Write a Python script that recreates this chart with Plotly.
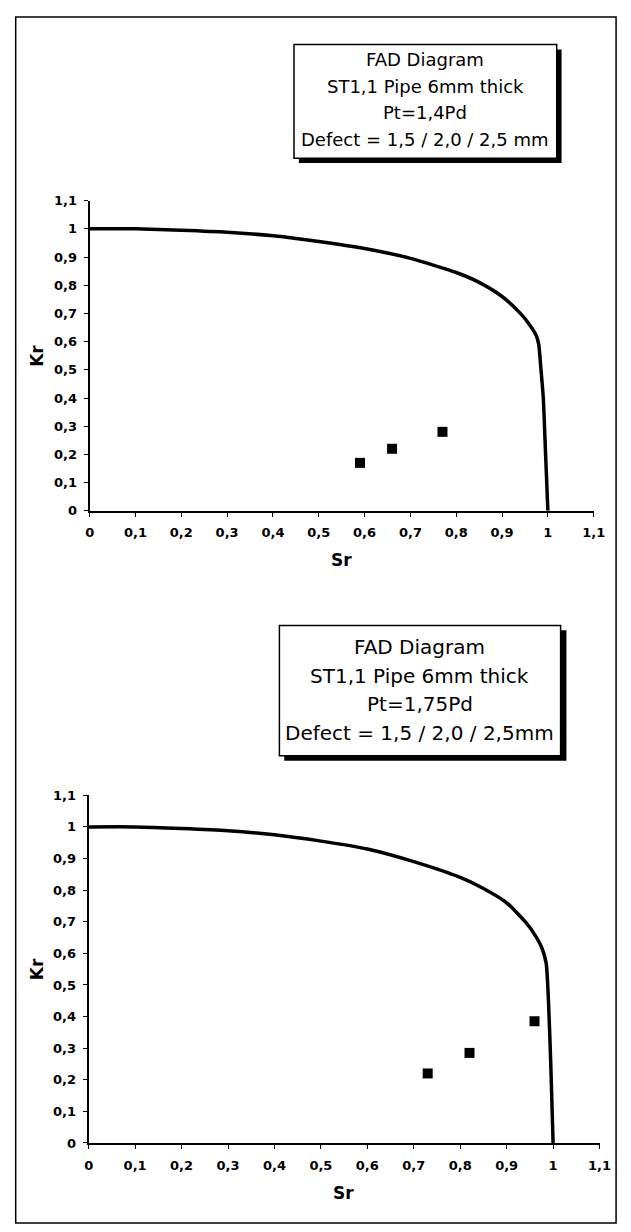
import plotly.graph_objects as go

W, H = 631, 1232

# ---- data ----
tick_vals = [0, 0.1, 0.2, 0.3, 0.4, 0.5, 0.6, 0.7, 0.8, 0.9, 1.0, 1.1]
tick_text = ["0", "0,1", "0,2", "0,3", "0,4", "0,5", "0,6", "0,7", "0,8", "0,9", "1", "1,1"]

fad1_sr = [0, 0.1, 0.2, 0.3, 0.4, 0.5, 0.6, 0.7, 0.8, 0.85, 0.9, 0.94, 0.96, 0.975, 0.98, 0.985, 0.99, 0.995, 1.0]
fad1_kr = [1.0, 1.0, 0.995, 0.988, 0.975, 0.955, 0.93, 0.895, 0.845, 0.81, 0.76, 0.70, 0.66, 0.62, 0.59, 0.5, 0.4, 0.2, 0.0]
pts1_sr = [0.59, 0.66, 0.77]
pts1_kr = [0.17, 0.22, 0.28]

fad2_sr = [0, 0.1, 0.2, 0.3, 0.4, 0.5, 0.6, 0.7, 0.8, 0.85, 0.9, 0.94, 0.96, 0.975, 0.985, 0.99, 0.995, 1.0]
fad2_kr = [1.0, 1.0, 0.995, 0.988, 0.975, 0.955, 0.93, 0.89, 0.84, 0.805, 0.76, 0.70, 0.66, 0.62, 0.57, 0.45, 0.25, 0.0]
pts2_sr = [0.73, 0.82, 0.96]
pts2_kr = [0.22, 0.285, 0.385]

box1_lines = ["FAD Diagram", "ST1,1 Pipe 6mm thick", "Pt=1,4Pd", "Defect = 1,5 / 2,0 / 2,5 mm"]
box2_lines = ["FAD Diagram", "ST1,1 Pipe 6mm thick", "Pt=1,75Pd", "Defect = 1,5 / 2,0 / 2,5mm"]


def px(x):
    return x / W


def py(y):
    return 1 - y / H


fig = go.Figure()

fig.add_trace(go.Scatter(x=fad1_sr, y=fad1_kr, mode="lines", line=dict(color="black", width=3.5, shape="spline", smoothing=0.6),
                         xaxis="x", yaxis="y", showlegend=False))
fig.add_trace(go.Scatter(x=pts1_sr, y=pts1_kr, mode="markers", marker=dict(symbol="square", size=10, color="black"),
                         xaxis="x", yaxis="y", showlegend=False))
fig.add_trace(go.Scatter(x=fad2_sr, y=fad2_kr, mode="lines", line=dict(color="black", width=3.5, shape="spline", smoothing=0.6),
                         xaxis="x2", yaxis="y2", showlegend=False))
fig.add_trace(go.Scatter(x=pts2_sr, y=pts2_kr, mode="markers", marker=dict(symbol="square", size=10, color="black"),
                         xaxis="x2", yaxis="y2", showlegend=False))

tickfont = dict(family="DejaVu Sans", size=13, color="black")
bold_ticks = ["<b>%s</b>" % t for t in tick_text]
axis_common = dict(range=[0, 1.1], tickvals=tick_vals, ticktext=bold_ticks, showline=True, linecolor="black",
                   linewidth=2, ticks="outside", ticklen=4, tickwidth=1, tickcolor="black", showgrid=False,
                   zeroline=False, tickfont=tickfont)

fig.update_layout(
    width=W, height=H,
    margin=dict(l=0, r=0, t=0, b=0),
    paper_bgcolor="white", plot_bgcolor="white",
    xaxis=dict(domain=[px(87), px(605)], anchor="y", ticklabelstandoff=5, **axis_common),
    yaxis=dict(domain=[py(510), py(196)], anchor="x", ticklabelstandoff=4, **axis_common),
    xaxis2=dict(domain=[px(86), px(611)], anchor="y2", ticklabelstandoff=5, **axis_common),
    yaxis2=dict(domain=[py(1150), py(798)], anchor="x2", ticklabelstandoff=4, **axis_common),
)

shapes = [
    dict(type="rect", xref="paper", yref="paper", x0=px(11), x1=px(628), y0=py(10), y1=py(1231),
         line=dict(color="black", width=1.5), fillcolor="rgba(0,0,0,0)"),
    # box 1 shadow + box
    dict(type="rect", xref="paper", yref="paper", x0=px(302), x1=px(572), y0=py(43), y1=py(158),
         line=dict(width=0), fillcolor="black"),
    dict(type="rect", xref="paper", yref="paper", x0=px(297), x1=px(567), y0=py(38), y1=py(153),
         line=dict(color="black", width=1.5), fillcolor="white"),
    # box 2 shadow + box
    dict(type="rect", xref="paper", yref="paper", x0=px(287), x1=px(577), y0=py(631), y1=py(763),
         line=dict(width=0), fillcolor="black"),
    dict(type="rect", xref="paper", yref="paper", x0=px(282), x1=px(571), y0=py(626), y1=py(758),
         line=dict(color="black", width=1.5), fillcolor="white"),
]
fig.update_layout(shapes=shapes)

ann = []
box_font1 = dict(family="DejaVu Sans", size=18, color="black")
for line, yy in zip(box1_lines, [53, 80, 107, 134]):
    ann.append(dict(x=px(432), y=py(yy), xref="paper", yref="paper", text=line, showarrow=False,
                    xanchor="center", yanchor="middle", font=box_font1))
box_font2 = dict(family="DejaVu Sans", size=20, color="black")
for line, yy in zip(box2_lines, [648, 677, 706, 735]):
    ann.append(dict(x=px(426), y=py(yy), xref="paper", yref="paper", text=line, showarrow=False,
                    xanchor="center", yanchor="middle", font=box_font2))

title_font = dict(family="DejaVu Sans", size=17, color="black")
ann.append(dict(x=px(33), y=py(353), xref="paper", yref="paper", text="<b>Kr</b>", textangle=-90,
                showarrow=False, xanchor="center", yanchor="middle", font=title_font))
ann.append(dict(x=px(346), y=py(560), xref="paper", yref="paper", text="<b>Sr</b>",
                showarrow=False, xanchor="center", yanchor="middle", font=title_font))
ann.append(dict(x=px(33), y=py(974), xref="paper", yref="paper", text="<b>Kr</b>", textangle=-90,
                showarrow=False, xanchor="center", yanchor="middle", font=title_font))
ann.append(dict(x=px(348), y=py(1201), xref="paper", yref="paper", text="<b>Sr</b>",
                showarrow=False, xanchor="center", yanchor="middle", font=title_font))
fig.update_layout(annotations=ann)

fig.write_html("out.html", config={"displayModeBar": False},
               post_script="document.body.style.margin='0';document.body.style.overflow='hidden';")
